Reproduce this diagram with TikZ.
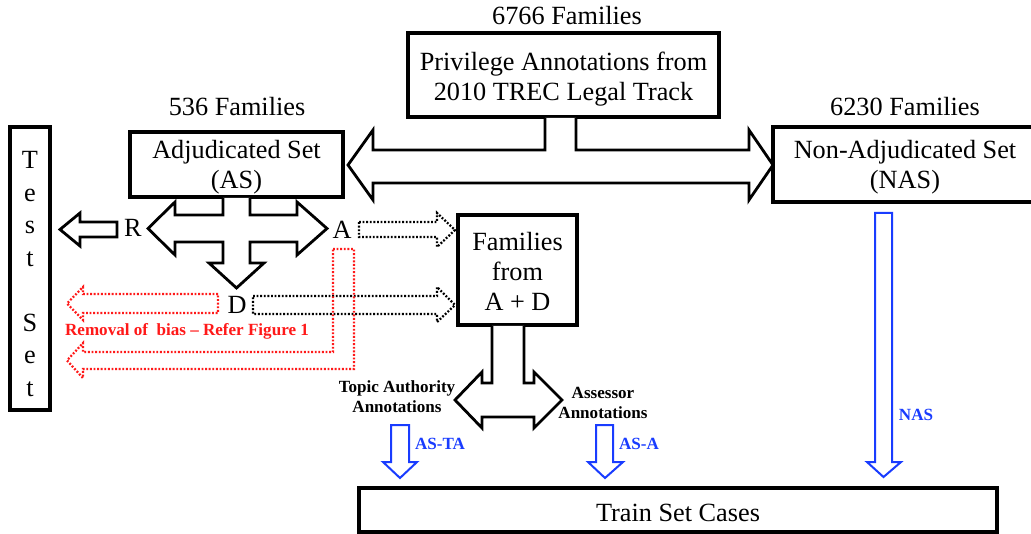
\documentclass[tikz,border=0pt]{standalone}
\usepackage{fontspec}
\setmainfont{Liberation Serif}
\definecolor{myred}{RGB}{255,25,25}
\definecolor{myblue}{RGB}{25,60,255}
\newcommand\mainsz{\fontsize{19.7}{22.5}\selectfont}
\newcommand\smallbf{\fontsize{12.8}{15}\selectfont\bfseries}
\begin{document}
\begin{tikzpicture}[x=0.75pt,y=-0.75pt,
  box/.style={draw, line width=2.5pt, rectangle, inner sep=0pt, align=center, font=\mainsz},
  lbl/.style={inner sep=0pt, align=center, font=\mainsz},
  blk/.style={draw, line width=2.1pt, line join=miter, fill=white},
  dotblk/.style={draw, line width=1.7pt, line join=miter, dash pattern=on 1.4pt off 1.3pt},
  bluearrow/.style={draw=myblue, line width=1.5pt, line join=miter},
  smalllbl/.style={inner sep=0pt, align=center, font=\smallbf}]
\useasboundingbox (0,0) rectangle (1031,534);
\clip (0,0) rectangle (1031,534);
\fill[white] (0,0) rectangle (1031,534);

% boxes
\node[box, minimum width=311*0.75pt, minimum height=84*0.75pt] (top) at (563.5,75) {};
\node[lbl] (toptxt) at (563.5,79) {Privilege Annotations from\\2010 TREC Legal Track};
\node[box, minimum width=213*0.75pt, minimum height=65*0.75pt] (as) at (236.5,164.5) {};
\node[lbl] (astxt) at (236.5,167.5) {Adjudicated Set\\(AS)};
\node[box, minimum width=264*0.75pt, minimum height=75*0.75pt] (nas) at (905,164.5) {};
\node[lbl] (nastxt) at (905,167.5) {Non-Adjudicated Set\\(NAS)};
\node[box, minimum width=40*0.75pt, minimum height=283*0.75pt] (test) at (30,268.5) {};
\node[lbl, font=\fontsize{19.7}{24.4}\selectfont] (testtxt) at (30,274) {T\\e\\s\\t\\[24.4pt]S\\e\\t};
\node[box, minimum width=119*0.75pt, minimum height=110*0.75pt] (fam) at (517.5,270) {};
\node[lbl] (famtxt) at (517.5,271) {Families\\from\\A + D};
\node[box, minimum width=638*0.75pt, minimum height=44*0.75pt] (train) at (678,510) {};
\node[lbl] (traintxt) at (678,513) {Train Set Cases};

% counts
\node[lbl] (c1) at (567,16) {6766 Families};
\node[lbl] (c2) at (237,107) {536 Families};
\node[lbl] (c3) at (905,107) {6230 Families};

% top double arrow
\draw[blk] (545,118) -- (545,150) -- (373,150) -- (373,130) -- (348,165) -- (373,200) -- (373,183)
  -- (749,183) -- (749,200) -- (773,165) -- (749,130) -- (749,150) -- (576,150) -- (576,118);

% AS cross arrow
\draw[blk] (223,198) -- (223,215) -- (175,215) -- (175,202) -- (148,228.5) -- (175,255) -- (175,242)
  -- (223,242) -- (223,263) -- (209,263) -- (236.5,288) -- (264,263) -- (250,263) -- (250,242)
  -- (297,242) -- (297,255) -- (327,228.5) -- (297,202) -- (297,215) -- (250,215) -- (250,198);

% R, A, D
\node[lbl] (R) at (133,228) {R};
\node[lbl] (A) at (342,230) {A};
\node[lbl] (D) at (237,305) {D};

% R -> test set
\draw[blk] (117,222) -- (80,222) -- (80,213) -- (60,229.5) -- (80,246) -- (80,237) -- (117,237) -- cycle;

% black dotted arrows
\draw[dotblk] (359,222) -- (437,222) -- (437,213) -- (455,230) -- (437,247) -- (437,237) -- (359,237) -- cycle;
\draw[dotblk] (253,296) -- (437,296) -- (437,287) -- (455,305) -- (437,322) -- (437,314) -- (253,314) -- cycle;

% red dotted arrows
\draw[dotblk, draw=myred] (218,294) -- (83,294) -- (83,287) -- (67,303.5) -- (83,320) -- (83,313) -- (218,313) -- cycle;
\draw[dotblk, draw=myred] (333,249) -- (354,249) -- (354,369) -- (83,369) -- (83,378) -- (67,360.5) -- (83,343) -- (83,352) -- (333,352) -- cycle;
\node[smalllbl, text=myred] (bias) at (187,331) {Removal of~ bias -- Refer Figure 1};

% families double arrow
\draw[blk] (492,326) -- (492,383) -- (482,383) -- (482,372) -- (455,400) -- (482,428) -- (482,417)
  -- (534,417) -- (534,428) -- (562,400) -- (534,372) -- (534,383) -- (524,383) -- (524,326);
\node[smalllbl] (ta) at (397,397) {Topic Authority\\Annotations};
\node[smalllbl] (aa) at (603,402.5) {Assessor\\Annotations};

% blue arrows
\draw[bluearrow] (391,425) -- (409,425) -- (409,462) -- (417,462) -- (400,478) -- (383,462) -- (391,462) -- cycle;
\draw[bluearrow] (596,425) -- (613,425) -- (613,462) -- (623,462) -- (605,478) -- (588,462) -- (596,462) -- cycle;
\draw[bluearrow] (875,213) -- (892,213) -- (892,462) -- (901,462) -- (883.5,477) -- (867,462) -- (875,462) -- cycle;
\node[smalllbl, text=myblue] (asta) at (440,444) {AS-TA};
\node[smalllbl, text=myblue] (asa) at (639,444) {AS-A};
\node[smalllbl, text=myblue] (naslbl) at (916,415) {NAS};
\end{tikzpicture}
\end{document}
